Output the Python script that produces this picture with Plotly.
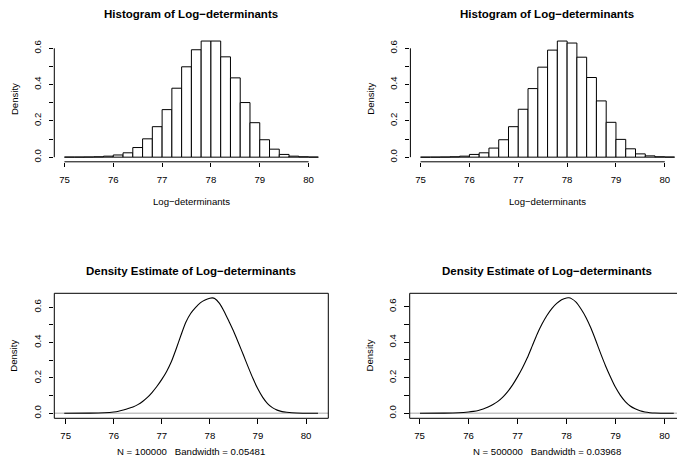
import plotly.graph_objects as go

# ---------------- data ----------------
bin_edges = [75.0, 75.2, 75.4, 75.6, 75.8, 76.0, 76.2, 76.4, 76.6, 76.8, 77.0,
             77.2, 77.4, 77.6, 77.8, 78.0, 78.2, 78.4, 78.6, 78.8, 79.0,
             79.2, 79.4, 79.6, 79.8, 80.0, 80.2]
hist_left = [0.0005, 0.0005, 0.001, 0.002, 0.0055, 0.012, 0.024, 0.053, 0.101, 0.168,
             0.262, 0.380, 0.498, 0.592, 0.640, 0.640, 0.553, 0.437, 0.301, 0.190,
             0.096, 0.044, 0.015, 0.0055, 0.002, 0.0005]
hist_right = [0.0, 0.0002, 0.0008, 0.002, 0.0055, 0.015, 0.024, 0.050, 0.096, 0.168,
              0.264, 0.378, 0.496, 0.590, 0.640, 0.629, 0.551, 0.439, 0.310, 0.192,
              0.098, 0.046, 0.018, 0.007, 0.002, 0.0006]

dens_left_x = [74.97, 75.5, 75.8, 76.0, 76.1, 76.2, 76.3, 76.4, 76.5, 76.6, 76.7, 76.8,
               76.9, 77.0, 77.1, 77.2, 77.3, 77.4, 77.5, 77.6, 77.7, 77.8, 77.9, 78.0,
               78.05, 78.1, 78.2, 78.3, 78.4, 78.5, 78.6, 78.7, 78.8, 78.9, 79.0, 79.1,
               79.2, 79.3, 79.4, 79.5, 79.6, 79.8, 80.0, 80.25]
dens_left_y = [0.0, 0.0008, 0.003, 0.0075, 0.012, 0.019, 0.027, 0.036, 0.049, 0.067, 0.09, 0.119,
               0.153, 0.192, 0.237, 0.293, 0.365, 0.443, 0.515, 0.565, 0.598, 0.625, 0.641, 0.651,
               0.653, 0.650, 0.622, 0.575, 0.518, 0.46, 0.395, 0.328, 0.26, 0.195, 0.137, 0.09,
               0.055, 0.032, 0.018, 0.0095, 0.006, 0.0015, 0.0003, 0.0]

dens_right_x = [75.01, 75.5, 75.8, 76.0, 76.1, 76.2, 76.3, 76.4, 76.5, 76.6, 76.7, 76.8,
                76.9, 77.0, 77.1, 77.2, 77.3, 77.4, 77.5, 77.6, 77.7, 77.8, 77.9, 78.0,
                78.05, 78.1, 78.2, 78.3, 78.4, 78.5, 78.6, 78.7, 78.8, 78.9, 79.0, 79.1,
                79.2, 79.3, 79.4, 79.5, 79.6, 79.7, 79.8, 80.0, 80.19]
dens_right_y = [0.0, 0.0008, 0.003, 0.0075, 0.011, 0.016, 0.024, 0.035, 0.049, 0.067, 0.091, 0.122,
                0.16, 0.205, 0.255, 0.312, 0.378, 0.445, 0.502, 0.55, 0.589, 0.618, 0.639, 0.649,
                0.6495, 0.645, 0.624, 0.585, 0.538, 0.478, 0.408, 0.334, 0.265, 0.203, 0.146, 0.101,
                0.066, 0.041, 0.025, 0.014, 0.0072, 0.0035, 0.0015, 0.0003, 0.0]

x_ticks = [75, 76, 77, 78, 79, 80]
y_ticks = [0.0, 0.1, 0.2, 0.3, 0.4, 0.5, 0.6]
y_ticktext = ["0.0", "", "0.2", "", "0.4", "", "0.6"]

hist_title = "Histogram of Log\u2212determinants"
dens_title = "Density Estimate of Log\u2212determinants"
x_label = "Log\u2212determinants"
y_label = "Density"
dens_left_label = "N = 100000   Bandwidth = 0.05481"
dens_right_label = "N = 500000   Bandwidth = 0.03968"

# ---------------- layout helpers ----------------
W, H = 677, 465
FONT = "Liberation Sans, Arial, Helvetica, sans-serif"
FS = 9.6
TFS = 11.5


def px_x(p):
    return p / W


def px_y(p):
    return 1 - p / H


centers = [(a + b) / 2 for a, b in zip(bin_edges[:-1], bin_edges[1:])]
widths = [b - a for a, b in zip(bin_edges[:-1], bin_edges[1:])]

fig = go.Figure()

bar_style = dict(color="white", line=dict(color="black", width=1))
fig.add_trace(go.Bar(x=centers, y=hist_left, width=widths, marker=bar_style,
                     xaxis="x", yaxis="y"))
fig.add_trace(go.Bar(x=centers, y=hist_right, width=widths, marker=bar_style,
                     xaxis="x2", yaxis="y2"))
fig.add_trace(go.Scatter(x=dens_left_x, y=dens_left_y, mode="lines",
                         line=dict(color="black", width=1.1, shape="spline", smoothing=0.6),
                         xaxis="x3", yaxis="y3"))
fig.add_trace(go.Scatter(x=dens_right_x, y=dens_right_y, mode="lines",
                         line=dict(color="black", width=1.1, shape="spline", smoothing=0.6),
                         xaxis="x4", yaxis="y4"))

# panel geometry (pixels)
panels = {
    # name: (left, right, top, bottom, xrange, yrange)
    "1": (54.3, 328.5, 36.4, 161.8, [74.792, 80.408], [-0.0256, 0.6656]),
    "2": (410.4, 677.0, 36.4, 161.8, [74.792, 80.2495], [-0.0256, 0.6656]),
    "3": (54.3, 328.3, 293.3, 418.3, [74.763, 80.464], [-0.0283, 0.679]),
    "4": (409.7, 677.0, 293.3, 418.3, [74.80, 80.255], [-0.0281, 0.675]),
}

tickfont = dict(family=FONT, size=FS, color="black")
layout = dict(
    width=W, height=H, autosize=False,
    margin=dict(l=0, r=0, t=0, b=0),
    paper_bgcolor="white", plot_bgcolor="white",
    showlegend=False, font=dict(family=FONT, color="black"),
)
for k, (l, r, t, b, xr, yr) in panels.items():
    xa = "xaxis" if k == "1" else "xaxis" + k
    ya = "yaxis" if k == "1" else "yaxis" + k
    anchor_x = "y" if k == "1" else "y" + k
    anchor_y = "x" if k == "1" else "x" + k
    layout[xa] = dict(domain=[px_x(l), px_x(r)], range=xr, anchor=anchor_x,
                      tickmode="array", tickvals=x_ticks, ticks="outside", ticklen=4.5,
                      tickwidth=1, tickcolor="black", showgrid=False, zeroline=False,
                      showline=False, tickfont=tickfont, ticklabelstandoff=4)
    layout[ya] = dict(domain=[px_y(b), px_y(t)], range=yr, anchor=anchor_y,
                      tickmode="array", tickvals=y_ticks, ticktext=y_ticktext,
                      ticks="outside", ticklen=4.5, tickwidth=1, tickcolor="black",
                      showgrid=False, zeroline=False, showline=False, tickfont=tickfont,
                      tickangle=-90, ticklabelstandoff=4)
fig.update_layout(**layout)

shapes = []
# histogram axis lines (R style: only between first and last tick)
for k in ["", "2"]:
    xr = "x" + k
    yr = "y" + k
    shapes.append(dict(type="line", xref=xr, yref=yr + " domain", x0=75, x1=80, y0=0, y1=0,
                       line=dict(color="black", width=1)))
    shapes.append(dict(type="line", xref=xr + " domain", yref=yr, x0=0, x1=0, y0=0, y1=0.6,
                       line=dict(color="black", width=1)))
# density boxes and zero lines
for k, full in [("3", True), ("4", False)]:
    xr = "x" + k
    yr = "y" + k
    shapes.append(dict(type="line", xref=xr + " domain", yref=yr, x0=0, x1=1, y0=0, y1=0,
                       line=dict(color="#c4c4c4", width=1.5), layer="below"))
    if full:
        shapes.append(dict(type="rect", xref=xr + " domain", yref=yr + " domain",
                           x0=0, x1=1, y0=0, y1=1, line=dict(color="black", width=1)))
    else:
        shapes.append(dict(type="path", xref=xr + " domain", yref=yr + " domain",
                           path="M 1.2 1 L 0 1 L 0 0 L 1.2 0",
                           line=dict(color="black", width=1)))
fig.update_layout(shapes=shapes)

ann = []


def text(x, y, s, size=FS, bold=False, angle=0):
    ann.append(dict(xref="paper", yref="paper", x=px_x(x), y=px_y(y),
                    text=("<b>%s</b>" % s) if bold else s, showarrow=False,
                    xanchor="center", yanchor="middle", textangle=angle,
                    font=dict(family=FONT, size=size, color="black")))


text(191.4, 13.5, hist_title, TFS, True)
text(547.4, 13.5, hist_title, TFS, True)
text(191.4, 270.7, dens_title, TFS, True)
text(546.5, 270.7, dens_title, TFS, True)
text(191.4, 201.7, x_label)
text(547.4, 201.7, x_label)
text(191.3, 451.7, dens_left_label)
text(546.5, 451.7, dens_right_label)
text(14, 99.1, y_label, angle=-90)
text(369.7, 99.1, y_label, angle=-90)
text(14, 355.8, y_label, angle=-90)
text(369.7, 355.8, y_label, angle=-90)
fig.update_layout(annotations=ann)

fig.write_html("out.html", config={"displayModeBar": False},
               post_script="document.body.style.margin='0';document.body.style.padding='0';"
                           "document.body.style.overflow='hidden';")
